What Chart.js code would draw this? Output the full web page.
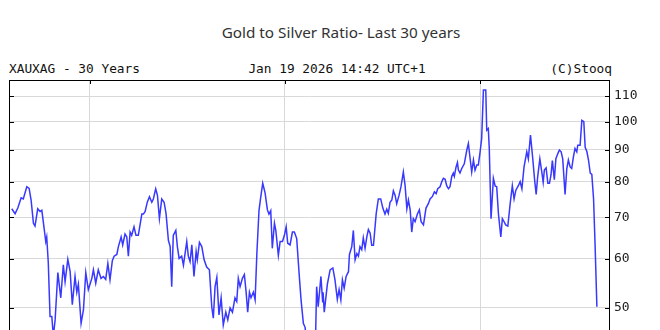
<!DOCTYPE html>
<html>
<head>
<meta charset="utf-8">
<script src="https://cdn.jsdelivr.net/npm/chart.js@4.4.1/dist/chart.umd.min.js"></script>
<style>
  html, body { margin: 0; padding: 0; background: #fff; overflow: hidden; }
  body { width: 660px; height: 330px; position: relative; }
  #chart { position: absolute; left: 0; top: 0; }
  .title { position: absolute; top: 22px; left: 341px; transform: translateX(-50%);
           font: 15.3px "Noto Sans", sans-serif; color: #333; white-space: nowrap; }
  .hdr { position: absolute; top: 61px; font: 12.8px "DejaVu Sans Mono", monospace; color: #111; white-space: nowrap; }
</style>
</head>
<body>
<div class="title">Gold to Silver Ratio- Last 30 years</div>
<div class="hdr" style="left:9px">XAUXAG - 30 Years</div>
<div class="hdr" style="left:337px;transform:translateX(-50%)">Jan 19 2026 14:42 UTC+1</div>
<div class="hdr" style="right:48px">(C)Stooq</div>
<canvas id="chart" width="660" height="470"></canvas>
<script>
// ── Data ───────────────────────────────────────────
const years = [
  1996.01,1996.18,1996.32,1996.49,1996.60,1996.78,1996.90,1997.00,1997.12,1997.20,
  1997.34,1997.46,1997.55,1997.68,1997.75,1997.80,1997.88,1997.97,1998.06,1998.14,
  1998.23,1998.37,1998.52,1998.65,1998.74,1998.88,1999.00,1999.11,1999.25,1999.34,
  1999.42,1999.56,1999.68,1999.80,1999.93,2000.11,2000.19,2000.31,2000.44,2000.58,
  2000.70,2000.82,2000.93,2001.04,2001.16,2001.25,2001.39,2001.47,2001.61,2001.69,
  2001.81,2001.90,2001.98,2002.07,2002.15,2002.27,2002.37,2002.49,2002.67,2002.75,
  2002.84,2002.95,2003.06,2003.18,2003.26,2003.38,2003.47,2003.57,2003.69,2003.81,
  2003.91,2004.03,2004.12,2004.20,2004.28,2004.41,2004.49,2004.58,2004.71,2004.80,
  2004.97,2005.05,2005.14,2005.23,2005.34,2005.45,2005.51,2005.62,2005.74,2005.86,
  2005.99,2006.13,2006.25,2006.33,2006.42,2006.51,2006.62,2006.73,2006.84,2006.97,
  2007.07,2007.19,2007.31,2007.44,2007.53,2007.61,2007.70,2007.82,2007.92,2008.01,
  2008.09,2008.18,2008.26,2008.38,2008.47,2008.56,2008.67,2008.76,2008.86,2008.98,
  2009.10,2009.18,2009.27,2009.35,2009.46,2009.53,2009.66,2009.75,2009.87,2009.97,
  2010.06,2010.14,2010.26,2010.38,2010.48,2010.60,2010.72,2010.82,2010.94,2011.03,
  2011.13,2011.23,2011.33,2011.41,2011.48,2011.56,2011.62,2011.70,2011.84,2011.93,
  2011.95,2012.01,2012.17,2012.31,2012.45,2012.56,2012.68,2012.77,2012.86,2012.94,
  2013.03,2013.13,2013.25,2013.30,2013.42,2013.50,2013.59,2013.68,2013.76,2013.84,
  2013.93,2014.01,2014.10,2014.19,2014.27,2014.36,2014.44,2014.53,2014.67,2014.78,
  2014.90,2015.01,2015.12,2015.21,2015.29,2015.38,2015.47,2015.55,2015.64,2015.72,
  2015.84,2015.94,2016.06,2016.15,2016.24,2016.32,2016.41,2016.49,2016.57,2016.66,
  2016.78,2016.88,2016.97,2017.09,2017.22,2017.34,2017.43,2017.55,2017.65,2017.74,
  2017.82,2017.94,2018.03,2018.11,2018.20,2018.28,2018.37,2018.45,2018.54,2018.62,
  2018.67,2018.76,2018.83,2018.88,2018.96,2019.05,2019.18,2019.31,2019.39,2019.48,
  2019.56,2019.65,2019.73,2019.82,2019.90,2019.99,2020.07,2020.16,2020.28,2020.33,
  2020.41,2020.46,2020.55,2020.67,2020.76,2020.84,2020.93,2021.05,2021.13,2021.22,
  2021.30,2021.41,2021.53,2021.64,2021.73,2021.82,2021.95,2022.04,2022.13,2022.24,
  2022.38,2022.46,2022.57,2022.68,2022.78,2022.86,2022.94,2023.05,2023.15,2023.22,
  2023.28,2023.37,2023.46,2023.54,2023.62,2023.69,2023.79,2023.87,2023.97,2024.05,
  2024.14,2024.22,2024.34,2024.43,2024.51,2024.60,2024.68,2024.77,2024.85,2024.94,
  2024.99,2025.11,2025.20,2025.30,2025.37,2025.46,2025.54,2025.63,2025.71,2025.80,
  2025.88,2025.97
];
const ratio = [
  72.3,71.0,72.5,75.3,75.0,78.5,78.0,74.7,68.5,67.8,
  72.3,71.6,71.9,66.7,64.0,65.1,59.2,48.4,48.4,45.0,
  47.8,57.0,51.9,58.7,55.1,59.9,57.2,50.6,56.2,53.0,
  54.6,47.2,49.6,57.0,53.5,55.8,57.6,54.8,57.6,55.8,
  56.2,55.6,59.0,55.5,59.6,60.6,61.0,62.8,65.1,63.2,
  65.8,65.1,60.6,66.3,65.5,67.6,65.5,65.5,70.9,70.9,
  71.6,74.1,75.6,74.1,75.0,77.9,76.0,69.7,75.0,74.1,
  71.0,64.3,62.8,54.1,65.5,66.7,62.8,60.1,60.6,58.6,
  64.0,60.6,59.4,63.2,56.2,61.7,59.8,63.8,62.8,59.8,
  58.2,57.6,50.2,48.1,54.1,56.0,48.7,51.9,46.9,49.2,
  47.8,50.0,49.2,51.9,51.2,55.8,54.1,55.8,56.6,53.0,
  49.2,53.0,51.9,53.0,51.5,61.2,71.9,75.6,79.5,76.7,
  72.0,70.9,71.8,62.4,68.5,66.7,60.8,64.0,64.0,65.5,
  67.6,63.6,63.2,66.3,66.3,64.7,57.0,51.6,47.2,46.5,
  43.0,38.0,32.5,40.0,42.0,44.0,54.1,50.2,56.2,51.0,
  53.0,49.2,54.6,57.6,58.0,55.5,51.6,53.5,51.5,55.5,
  53.8,56.2,57.2,61.0,62.8,66.7,59.8,61.2,60.6,62.8,
  62.1,64.9,62.4,65.1,66.9,66.0,63.1,63.1,71.0,75.0,
  75.0,72.5,70.9,72.2,71.1,74.1,74.7,77.3,76.0,73.7,
  76.0,78.5,82.9,78.8,72.3,74.7,72.0,66.3,69.7,68.9,
  70.9,72.0,68.9,68.1,72.5,73.7,75.0,75.7,77.0,76.5,
  77.9,78.5,80.0,81.0,80.7,78.8,77.9,78.5,81.6,82.6,
  81.6,84.5,85.9,83.5,82.6,84.0,85.5,90.0,92.2,87.1,
  82.9,86.7,83.5,85.1,85.1,89.4,93.9,112.5,112.5,96.9,
  97.5,90.5,69.7,81.0,78.7,78.5,70.9,65.1,69.7,68.9,
  68.1,67.8,73.7,78.8,75.0,77.5,78.8,80.0,77.9,84.5,
  89.4,87.1,95.1,87.6,80.6,76.3,81.6,87.1,82.9,79.8,
  83.5,84.2,79.5,79.5,82.0,86.5,80.6,87.1,88.8,90.0,
  89.4,87.1,76.3,84.0,86.7,84.5,84.0,87.8,90.5,89.4,
  91.6,91.6,100.5,100.0,90.9,89.4,86.7,82.6,82.2,75.0,
  62.8,50.2
];
const yTicks = [50, 60, 70, 80, 90, 100, 110];
const xTicks = [2000, 2010, 2020];

// ── Frame + inner tick marks ───────────────────────
const frame = {
  id: "frame",
  afterDraw(chart) {
    const { ctx, chartArea: a, scales } = chart;
    ctx.save();
    ctx.strokeStyle = "#000";
    ctx.lineWidth = 1;
    ctx.beginPath();
    yTicks.forEach(v => {
      const y = Math.round(scales.y.getPixelForValue(v)) + 0.5;
      ctx.moveTo(a.left, y); ctx.lineTo(a.left + 4, y);
      ctx.moveTo(a.right - 4, y); ctx.lineTo(a.right, y);
    });
    xTicks.forEach(v => {
      const x = Math.round(scales.x.getPixelForValue(v)) + 0.5;
      ctx.moveTo(x, a.top); ctx.lineTo(x, a.top + 4);
    });
    ctx.stroke();
    ctx.strokeRect(Math.round(a.left) - 0.5, Math.round(a.top) + 0.5,
                   Math.round(a.right - a.left) + 1, Math.round(a.bottom - a.top));
    ctx.restore();
  }
};

new Chart(document.getElementById("chart"), {
  type: "line",
  data: {
    datasets: [{
      data: years.map((x, i) => ({ x, y: ratio[i] })),
      borderColor: "#3838ff",
      borderWidth: 1.5,
      pointRadius: 0,
      tension: 0,
    }],
  },
  options: {
    responsive: false,
    animation: false,
    devicePixelRatio: 1,
    layout: { padding: { top: 80, left: 10, right: 0, bottom: 0 } },
    plugins: { legend: { display: false }, tooltip: { enabled: false } },
    scales: {
      x: {
        type: "linear",
        min: 1995.92,
        max: 2026.59,
        afterBuildTicks: s => { s.ticks = xTicks.map(v => ({ value: v })); },
        afterFit: s => { s.height = 25; },
        grid: { color: "#d9d9d9", drawTicks: false },
        border: { display: false },
        ticks: { display: false },
      },
      y: {
        type: "logarithmic",
        position: "right",
        min: 30,
        max: 116.8,
        afterBuildTicks: s => { s.ticks = yTicks.map(v => ({ value: v })); },
        afterFit: s => { s.width = 51; },
        grid: { color: "#d9d9d9", drawTicks: false },
        border: { display: false },
        ticks: {
          padding: 5,
          color: "#222",
          font: { family: "DejaVu Sans Mono", size: 13 },
          callback: v => String(v),
        },
      },
    },
  },
  plugins: [frame],
});
</script>
</body>
</html>
